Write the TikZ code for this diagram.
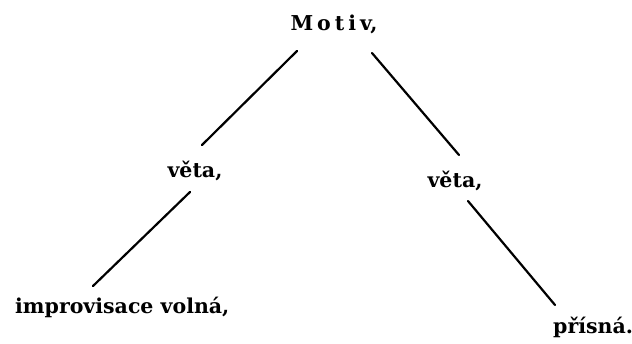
\documentclass[tikz,border=0pt]{standalone}
\usepackage{fontspec}
\setmainfont{DejaVu Serif}
\begin{document}
\begin{tikzpicture}[x=1pt,y=-1pt,
  lbl/.style={inner sep=0pt,font=\fontsize{20.5}{24}\selectfont\bfseries},
  branch/.style={line width=2.2pt,line cap=round}]
\useasboundingbox[fill=white] (0,0) rectangle (632,343);
\node[lbl,anchor=base] (motiv) at (334,30) {M\kern4pt o\kern4pt t\kern4pt i\kern4pt v,};
\node[lbl,anchor=base] (v1) at (195,177) {věta,};
\node[lbl,anchor=base] (v2) at (455,187) {věta,};
\node[lbl,anchor=base west] (imp) at (15,313) {improvisace volná,};
\node[lbl,anchor=base west] (pr) at (553,333) {přísná.};
\coordinate (a1) at (297,51);  \coordinate (a2) at (202,145);
\coordinate (b1) at (190,192); \coordinate (b2) at (93,286);
\coordinate (c1) at (372,53);  \coordinate (c2) at (459,155);
\coordinate (d1) at (468,201); \coordinate (d2) at (555,305);
\draw[branch] (a1) -- (a2);
\draw[branch] (b1) -- (b2);
\draw[branch] (c1) -- (c2);
\draw[branch] (d1) -- (d2);
\end{tikzpicture}
\end{document}
